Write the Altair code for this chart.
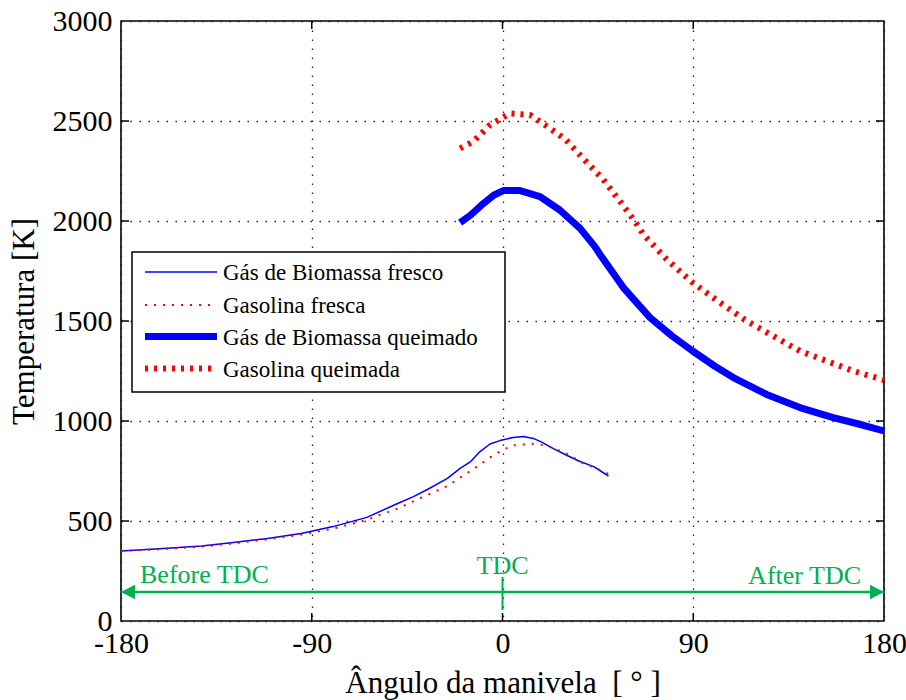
import altair as alt
import pandas as pd

# ---------------- data ----------------
ang_bio_fresh = [-180, -160, -142, -127, -111, -95, -80, -64, -50, -42, -35, -26, -20, -15, -10.6, -5.9, -1.2, 5, 9.8, 14.5, 18, 24, 30, 36, 43, 50]
T_bio_fresh   = [350, 362, 375, 392, 413, 438, 472, 518, 585, 622, 660, 713, 763, 797, 847, 885, 902, 918, 922, 913, 897, 862, 830, 800, 772, 725]

ang_gas_fresh = [-180, -160, -142, -127, -111, -95, -80, -64, -58, -50, -39, -26, -12, -3.5, 4.3, 13, 20.8, 29.5, 38, 44, 50]
T_gas_fresh   = [350, 360, 372, 388, 408, 432, 462, 505, 530, 560, 613, 675, 772, 835, 877, 887, 877, 842, 788, 765, 735]

ang_bio_burn = [-20, -15, -9, -4, 0.4, 8.3, 17.7, 27, 36.6, 43.6, 46, 57, 69.6, 80, 89.7, 100, 108.9, 124.6, 140.3, 156, 168, 180]
T_bio_burn   = [1992, 2030, 2088, 2130, 2152, 2152, 2122, 2055, 1963, 1872, 1833, 1667, 1517, 1425, 1350, 1275, 1217, 1133, 1067, 1017, 985, 950]

ang_gas_burn = [-20, -13.8, -5.9, 3.5, 13, 22.4, 30, 38, 47.5, 56, 63, 66.4, 77.5, 89.7, 102.6, 115.2, 127.7, 140.3, 152.9, 165.5, 180]
T_gas_burn   = [2363, 2397, 2480, 2538, 2530, 2463, 2405, 2313, 2208, 2090, 1990, 1933, 1808, 1692, 1592, 1500, 1425, 1350, 1300, 1250, 1205]

series_names = ["Gás de Biomassa fresco", "Gasolina fresca", "Gás de Biomassa queimado", "Gasolina queimada"]

x_tick_values = [-180, -90, 0, 90, 180]
y_tick_values = [0, 500, 1000, 1500, 2000, 2500, 3000]
x_inner_ticks = [-90, 0, 90]
y_inner_ticks = [500, 1000, 1500, 2000, 2500]

arrow_level = [145]
arrow_span = [-180, 180]
tdc_mark = [0]
tdc_mark_range = [55, 220]
ann_texts = ["Before TDC", "TDC", "After TDC"]
ann_x = [-180, 0, 180]
ann_y = [188, 235, 186]

# ---------------- styling ----------------
FONT = "Liberation Serif"
W, H = 763, 600
GREEN = "#00B050"
BLUE = "#0000FF"
RED = "#FF0000"

xs = alt.Scale(domain=[-180, 180], nice=False, zero=False)
ys = alt.Scale(domain=[0, 3000], nice=False, zero=False)

x_axis = alt.Axis(values=x_tick_values, labelExpr="'' + datum.value", grid=True,
                  gridDash=[1.5, 7.5], gridColor="#222", gridWidth=1.3,
                  ticks=False, domain=False,
                  labelFont=FONT, labelFontSize=30, labelColor="black",
                  labelPadding=7, labelFlush=False, labelOverlap=False,
                  title="Ângulo da manivela\u00a0\u00a0[ ° ]", titleFont=FONT,
                  titleFontSize=31, titleFontWeight="normal",
                  titleColor="black", titlePadding=10)
y_axis = alt.Axis(values=y_tick_values, labelExpr="'' + datum.value", grid=True,
                  gridDash=[1.5, 7.5], gridColor="#222", gridWidth=1.3,
                  ticks=False, domain=False,
                  labelFont=FONT, labelFontSize=30, labelColor="black",
                  labelPadding=9, labelFlush=False, labelOverlap=False,
                  title="Temperatura [K]", titleFont=FONT,
                  titleFontSize=31, titleFontWeight="normal",
                  titleColor="black", titlePadding=12)


def X(field="angle"):
    return alt.X(f"{field}:Q", scale=xs, axis=x_axis)


def Y(field="T"):
    return alt.Y(f"{field}:Q", scale=ys, axis=y_axis)


styles = [
    dict(color=BLUE, strokeWidth=1.5),
    dict(color=RED, strokeWidth=2, strokeDash=[2, 7]),
    dict(color=BLUE, strokeWidth=7),
    dict(color=RED, strokeWidth=6, strokeDash=[3, 6]),
]
series_data = [
    (ang_bio_fresh, T_bio_fresh),
    (ang_gas_fresh, T_gas_fresh),
    (ang_bio_burn, T_bio_burn),
    (ang_gas_burn, T_gas_burn),
]

layers = []

# inward ticks
yt = pd.DataFrame({"T": y_inner_ticks})
xt = pd.DataFrame({"angle": x_inner_ticks})
tick_style = dict(color="black", strokeWidth=1.5)
layers.append(alt.Chart(yt).mark_rule(**tick_style).encode(
    y=Y(), x=alt.value(0), x2=alt.value(8)))
layers.append(alt.Chart(yt).mark_rule(**tick_style).encode(
    y=Y(), x=alt.value(W - 8), x2=alt.value(W)))
layers.append(alt.Chart(xt).mark_rule(**tick_style).encode(
    x=X(), y=alt.value(H - 8), y2=alt.value(H)))
layers.append(alt.Chart(xt).mark_rule(**tick_style).encode(
    x=X(), y=alt.value(0), y2=alt.value(8)))

# data series
for (a, t), st in zip(series_data, styles):
    df = pd.DataFrame({"angle": a, "T": t})
    layers.append(alt.Chart(df).mark_line(strokeCap="butt", strokeJoin="round", **st).encode(
        x=X(), y=Y(), order="angle:Q"))

# green annotation: double arrow, TDC marker, texts
arr_df = pd.DataFrame({"angle": [arrow_span[0]], "angle2": [arrow_span[1]], "T": arrow_level})
layers.append(alt.Chart(arr_df).mark_rule(color=GREEN, strokeWidth=2.5).encode(
    x=X(), x2="angle2:Q", y=Y()))
head_left = pd.DataFrame({"angle": [arrow_span[0]], "T": arrow_level})
head_right = pd.DataFrame({"angle": [arrow_span[1]], "T": arrow_level})
layers.append(alt.Chart(head_left).mark_point(
    shape="M0,0L2,-1.05L2,1.05Z", size=196, filled=True, color=GREEN, opacity=1,
    strokeWidth=0).encode(x=X(), y=Y()))
layers.append(alt.Chart(head_right).mark_point(
    shape="M0,0L-2,-1.05L-2,1.05Z", size=196, filled=True, color=GREEN, opacity=1,
    strokeWidth=0).encode(x=X(), y=Y()))
tdc_df = pd.DataFrame({"angle": tdc_mark, "T": [tdc_mark_range[0]], "T2": [tdc_mark_range[1]]})
layers.append(alt.Chart(tdc_df).mark_rule(color=GREEN, strokeWidth=2).encode(
    x=X(), y=Y(), y2="T2:Q"))

ann_df = pd.DataFrame({"txt": ann_texts, "angle": ann_x, "T": ann_y})
for i, (al, dx) in enumerate([("left", 19), ("center", 0), ("right", -23)]):
    layers.append(alt.Chart(ann_df.iloc[[i]]).mark_text(
        font=FONT, fontSize=26, color=GREEN, align=al, baseline="alphabetic", dx=dx).encode(
        x=X(), y=Y(), text="txt:N"))

# legend (drawn by hand to match the MATLAB box)
LX0, LX1, LY0, LY1 = 11, 384, 231, 371
leg_rows = [251, 284, 315.5, 347.5]
layers.append(alt.Chart(pd.DataFrame({"k": [0]})).mark_rect(
    fill="white", stroke="black", strokeWidth=1.5).encode(
    x=alt.value(LX0), x2=alt.value(LX1), y=alt.value(LY0), y2=alt.value(LY1)))
for name, st, ly in zip(series_names, styles, leg_rows):
    ldf = pd.DataFrame({"name": [name]})
    layers.append(alt.Chart(ldf).mark_rule(strokeCap="butt", **st).encode(
        x=alt.value(24), x2=alt.value(96), y=alt.value(ly)))
    layers.append(alt.Chart(ldf).mark_text(
        font=FONT, fontSize=23, color="black", align="left", baseline="middle").encode(
        x=alt.value(102), y=alt.value(ly + 1), text="name:N"))

chart = alt.layer(*layers).properties(
    width=W, height=H,
    autosize=alt.AutoSizeParams(type="none"),
    padding={"left": 121, "top": 21, "right": 22, "bottom": 79},
    background="white",
).configure_view(stroke="black", strokeWidth=1.6)

chart.save("out.html", embed_options={"renderer": "svg", "actions": False})
